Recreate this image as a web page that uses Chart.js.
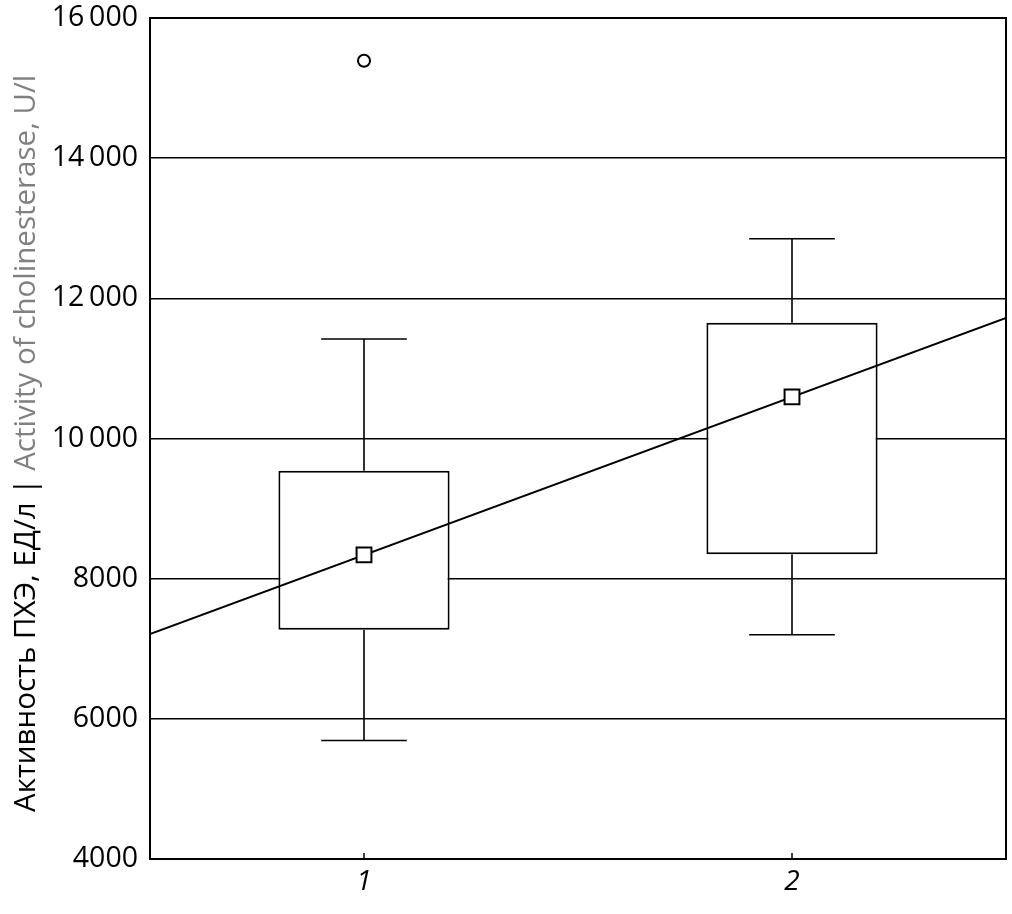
<!DOCTYPE html>
<html>
<head>
<meta charset="utf-8">
<script src="https://cdn.jsdelivr.net/npm/chart.js@4"></script>
<style>
  html, body { margin: 0; padding: 0; background: #fff; }
  canvas { display: block; }
</style>
</head>
<body>
<canvas id="chart" width="1012" height="914"></canvas>
<script>
// Группы и значения (ПХЭ, ЕД/л)
const categories = [1, 2];
const categoryLabels = ['1', '2'];
const whiskerLow = [5690, 7200];
const boxLow = [7270, 8350];
const boxHigh = [9540, 11650];
const whiskerHigh = [11420, 12850];
const centers = [8340, 10595];
const outliers = [[15390], []];
// линия тренда: значения на краях оси x (0.5 и 2.5)
const trendX = [0.5, 2.5];
const trendY = [7210, 11720];
const yTicks = [4000, 6000, 8000, 10000, 12000, 14000, 16000];

const FONT = "'Open Sans', 'Noto Sans', sans-serif";
const capHalf = 0.1;

function fmt(v) {
  const s = String(v);
  return v >= 10000 ? s.slice(0, s.length - 3) + '\u2009' + s.slice(-3) : s;
}

// отрезки усов: точки с y:null разрывают линию
const whiskerPts = [];
categories.forEach((x, i) => {
  whiskerPts.push({ x: x, y: boxHigh[i] }, { x: x, y: whiskerHigh[i] }, { x: x, y: null });
  whiskerPts.push({ x: x - capHalf, y: whiskerHigh[i] }, { x: x + capHalf, y: whiskerHigh[i] }, { x: x, y: null });
  whiskerPts.push({ x: x, y: boxLow[i] }, { x: x, y: whiskerLow[i] }, { x: x, y: null });
  whiskerPts.push({ x: x - capHalf, y: whiskerLow[i] }, { x: x + capHalf, y: whiskerLow[i] }, { x: x, y: null });
});

const outlierPts = [];
outliers.forEach((arr, i) => arr.forEach(v => outlierPts.push({ x: categories[i], y: v })));

// рамка, внутренние засечки по x и подпись оси y
const extras = {
  id: 'extras',
  afterDraw(chart) {
    const { ctx, chartArea: a, scales } = chart;
    ctx.save();
    ctx.strokeStyle = '#000';
    ctx.lineWidth = 2;
    ctx.beginPath();
    ctx.moveTo(a.left, a.top);
    ctx.lineTo(a.right, a.top);
    ctx.lineTo(a.right, a.bottom);
    ctx.stroke();
    ctx.lineWidth = 1.5;
    categories.forEach(c => {
      const px = scales.x.getPixelForValue(c);
      ctx.beginPath();
      ctx.moveTo(px, a.bottom);
      ctx.lineTo(px, a.bottom - 6);
      ctx.stroke();
    });

    const part1 = 'Активность ПХЭ, ЕД/л | ';
    const part2 = 'Activity of cholinesterase, U/l';
    ctx.translate(27, 812);
    ctx.rotate(-Math.PI / 2);
    ctx.font = '29.5px ' + FONT;
    ctx.textBaseline = 'middle';
    ctx.textAlign = 'left';
    ctx.fillStyle = '#000';
    ctx.fillText(part1, 0, 0);
    const w = ctx.measureText(part1).width;
    ctx.fillStyle = '#808080';
    ctx.fillText(part2, w, 0);
    ctx.restore();
  }
};

new Chart(document.getElementById('chart'), {
  data: {
    datasets: [
      {
        type: 'bar',
        data: categories.map((x, i) => ({ x: x, y: [boxLow[i], boxHigh[i]] })),
        backgroundColor: '#fff',
        borderColor: '#000',
        borderWidth: 2,
        borderSkipped: false,
        barPercentage: 0.4,
        categoryPercentage: 1,
        order: 5
      },
      {
        type: 'line',
        data: whiskerPts,
        borderColor: '#000',
        borderWidth: 1.6,
        pointRadius: 0,
        spanGaps: false,
        order: 6
      },
      {
        type: 'line',
        data: trendX.map((x, i) => ({ x: x, y: trendY[i] })),
        borderColor: '#000',
        borderWidth: 1.8,
        pointRadius: 0,
        order: 2
      },
      {
        type: 'scatter',
        data: categories.map((x, i) => ({ x: x, y: centers[i] })),
        pointStyle: 'rect',
        pointRadius: 10.5,
        backgroundColor: '#fff',
        borderColor: '#000',
        borderWidth: 2,
        order: 1
      },
      {
        type: 'scatter',
        data: outlierPts,
        pointStyle: 'circle',
        pointRadius: 6,
        backgroundColor: '#fff',
        borderColor: '#000',
        borderWidth: 2,
        order: 1
      }
    ]
  },
  options: {
    responsive: false,
    animation: false,
    layout: { autoPadding: false, padding: { top: 18, right: 6, left: 0, bottom: 0 } },
    plugins: {
      legend: { display: false },
      tooltip: { enabled: false }
    },
    scales: {
      x: {
        type: 'linear',
        min: 0.5,
        max: 2.5,
        offset: false,
        afterBuildTicks: s => { s.ticks = categories.map(v => ({ value: v })); },
        afterFit: s => { s.height = 55; s.paddingLeft = 0; s.paddingRight = 0; },
        ticks: {
          callback: v => categoryLabels[categories.indexOf(v)],
          color: '#000',
          font: { family: FONT, size: 28, style: 'italic' },
          padding: 6,
          maxRotation: 0
        },
        grid: { drawOnChartArea: false, tickLength: 0, offset: false },
        border: { color: '#000', width: 2 }
      },
      y: {
        min: 4000,
        max: 16000,
        afterBuildTicks: s => { s.ticks = yTicks.map(v => ({ value: v })); },
        afterFit: s => { s.width = 150; s.paddingTop = 0; s.paddingBottom = 0; },
        ticks: {
          callback: v => fmt(v),
          color: '#000',
          font: { family: FONT, size: 28.5 },
          padding: 12
        },
        grid: { color: '#000', lineWidth: 1.6, tickLength: 0 },
        border: { color: '#000', width: 2 }
      }
    }
  },
  plugins: [extras]
});
</script>
</body>
</html>
